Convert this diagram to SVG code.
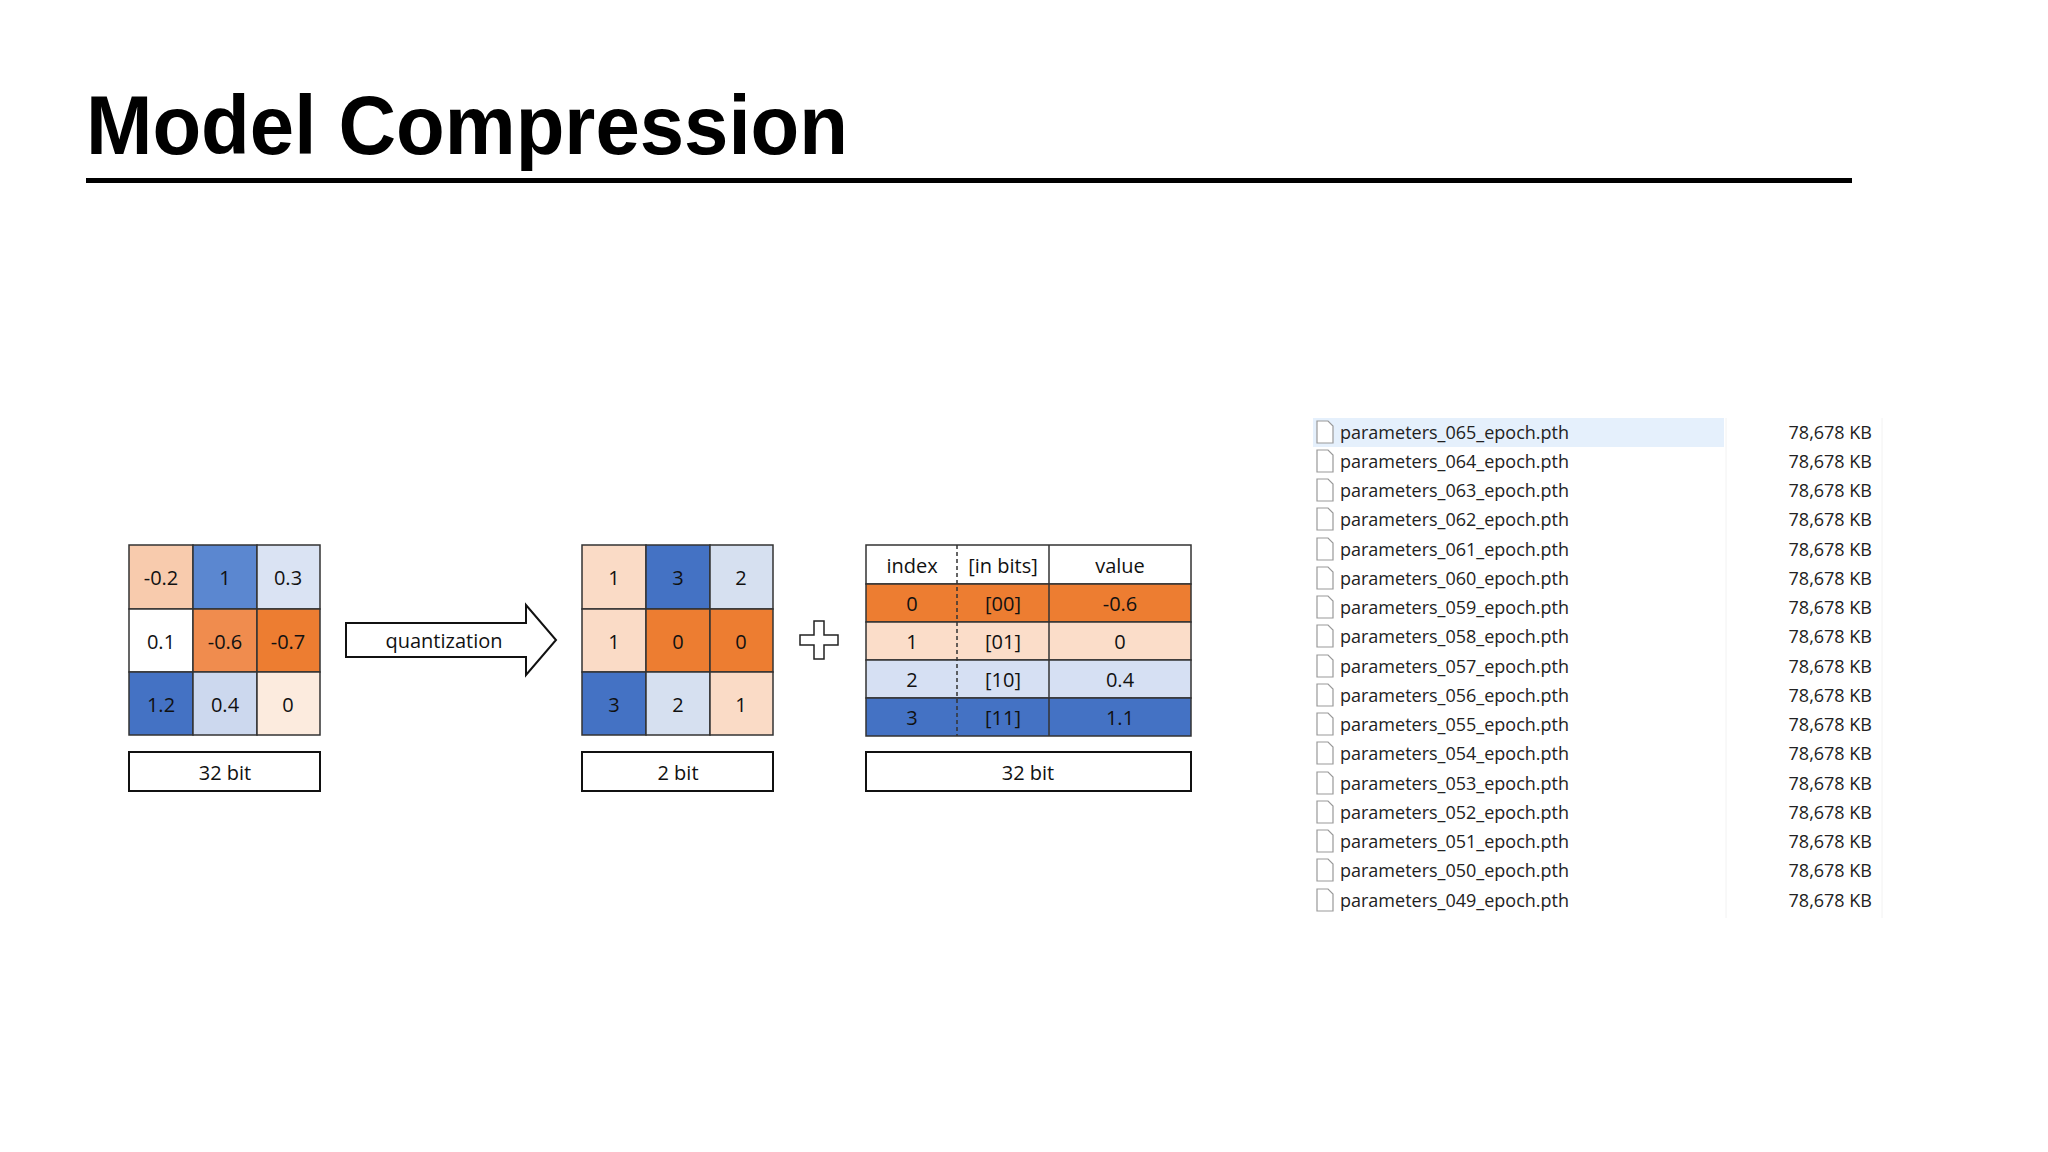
<svg xmlns="http://www.w3.org/2000/svg" width="2048" height="1152" viewBox="0 0 2048 1152">
<style>
.t{font-family:"Open Sans","Liberation Sans",sans-serif;font-size:20px;fill:#111;text-anchor:middle;dominant-baseline:central}
.c{stroke:#333;stroke-width:1.5}
.b{fill:#fff;stroke:#111;stroke-width:2}
.f{font-family:"Open Sans","Liberation Sans",sans-serif;font-size:18px;fill:#222}
.s{font-family:"Open Sans","Liberation Sans",sans-serif;font-size:18px;fill:#222;text-anchor:end}
.i{fill:#fff;stroke:#999;stroke-width:1.2}
</style>
<defs>
<path id="ic" d="M0,0 h11 l5,5 v17 h-16 z" class="i"/>
</defs>
<rect width="2048" height="1152" fill="#fff"/>
<g id="title">
<text x="86" y="154" font-family="Liberation Sans,sans-serif" font-weight="bold" font-size="84" textLength="762" lengthAdjust="spacingAndGlyphs" fill="#000">Model Compression</text>
<rect x="86" y="178" width="1766" height="5" fill="#000"/>
</g>
<g id="grid32">
<rect x="129" y="545" width="64" height="64" fill="#F8CBAD" class="c"/><text class="t" x="161" y="577">-0.2</text>
<rect x="193" y="545" width="64" height="64" fill="#5B87D0" class="c"/><text class="t" x="225" y="577">1</text>
<rect x="257" y="545" width="63" height="64" fill="#DAE3F3" class="c"/><text class="t" x="288" y="577">0.3</text>
<rect x="129" y="609" width="64" height="63" fill="#fff" class="c"/><text class="t" x="161" y="641">0.1</text>
<rect x="193" y="609" width="64" height="63" fill="#F08C4E" class="c"/><text class="t" x="225" y="641">-0.6</text>
<rect x="257" y="609" width="63" height="63" fill="#ED7D31" class="c"/><text class="t" x="288" y="641">-0.7</text>
<rect x="129" y="672" width="64" height="63" fill="#4472C4" class="c"/><text class="t" x="161" y="704">1.2</text>
<rect x="193" y="672" width="64" height="63" fill="#CCD8EE" class="c"/><text class="t" x="225" y="704">0.4</text>
<rect x="257" y="672" width="63" height="63" fill="#FCEBDE" class="c"/><text class="t" x="288" y="704">0</text>
<rect x="129" y="752" width="191" height="39" class="b"/><text class="t" x="225" y="772">32 bit</text>
</g>
<g id="arrow">
<path d="M346,623 H526 V605 L556,640 L526,675 V657 H346 Z" fill="#fff" stroke="#111" stroke-width="2"/>
<text class="t" x="444" y="640">quantization</text>
</g>
<g id="grid2">
<rect x="582" y="545" width="64" height="64" fill="#FADBC6" class="c"/><text class="t" x="614" y="577">1</text>
<rect x="646" y="545" width="64" height="64" fill="#4472C4" class="c"/><text class="t" x="678" y="577">3</text>
<rect x="710" y="545" width="63" height="64" fill="#D6E0F0" class="c"/><text class="t" x="741" y="577">2</text>
<rect x="582" y="609" width="64" height="63" fill="#FADBC6" class="c"/><text class="t" x="614" y="641">1</text>
<rect x="646" y="609" width="64" height="63" fill="#ED7D31" class="c"/><text class="t" x="678" y="641">0</text>
<rect x="710" y="609" width="63" height="63" fill="#ED7D31" class="c"/><text class="t" x="741" y="641">0</text>
<rect x="582" y="672" width="64" height="63" fill="#4472C4" class="c"/><text class="t" x="614" y="704">3</text>
<rect x="646" y="672" width="64" height="63" fill="#D6E0F0" class="c"/><text class="t" x="678" y="704">2</text>
<rect x="710" y="672" width="63" height="63" fill="#FADBC6" class="c"/><text class="t" x="741" y="704">1</text>
<rect x="582" y="752" width="191" height="39" class="b"/><text class="t" x="678" y="772">2 bit</text>
</g>
<g id="plus">
<path d="M814,621 h10 v14 h14 v10 h-14 v14 h-10 v-14 h-14 v-10 h14 z" fill="#fff" stroke="#222" stroke-width="1.5"/>
</g>
<g id="codebook">
<rect x="866" y="545" width="325" height="39" fill="#fff" class="c"/>
<rect x="866" y="584" width="325" height="38" fill="#ED7D31" class="c"/>
<rect x="866" y="622" width="325" height="38" fill="#FBDDC9" class="c"/>
<rect x="866" y="660" width="325" height="38" fill="#D6E0F3" class="c"/>
<rect x="866" y="698" width="325" height="38" fill="#4472C4" class="c"/>
<line x1="957" y1="545" x2="957" y2="736" stroke="#333" stroke-width="1.5" stroke-dasharray="4,3"/>
<line x1="1049" y1="545" x2="1049" y2="736" stroke="#333" stroke-width="1.5"/>
<text class="t" x="912" y="565">index</text><text class="t" x="1003" y="565">[in bits]</text><text class="t" x="1120" y="565">value</text>
<text class="t" x="912" y="603">0</text><text class="t" x="1003" y="603">[00]</text><text class="t" x="1120" y="603">-0.6</text>
<text class="t" x="912" y="641">1</text><text class="t" x="1003" y="641">[01]</text><text class="t" x="1120" y="641">0</text>
<text class="t" x="912" y="679">2</text><text class="t" x="1003" y="679">[10]</text><text class="t" x="1120" y="679">0.4</text>
<text class="t" x="912" y="717">3</text><text class="t" x="1003" y="717">[11]</text><text class="t" x="1120" y="717">1.1</text>
<rect x="866" y="752" width="325" height="39" class="b"/><text class="t" x="1028" y="772">32 bit</text>
</g>
<g id="filelist">
<rect x="1313" y="418" width="411" height="29" fill="#E5F0FC"/>
<line x1="1726" y1="418" x2="1726" y2="918" stroke="#f2f2f2"/>
<line x1="1882" y1="418" x2="1882" y2="918" stroke="#f2f2f2"/>
<use href="#ic" x="1317" y="421"/><text class="f" x="1340" y="439">parameters_065_epoch.pth</text><text class="s" x="1872" y="439">78,678 KB</text>
<use href="#ic" x="1317" y="450"/><text class="f" x="1340" y="468">parameters_064_epoch.pth</text><text class="s" x="1872" y="468">78,678 KB</text>
<use href="#ic" x="1317" y="479"/><text class="f" x="1340" y="497">parameters_063_epoch.pth</text><text class="s" x="1872" y="497">78,678 KB</text>
<use href="#ic" x="1317" y="508"/><text class="f" x="1340" y="526">parameters_062_epoch.pth</text><text class="s" x="1872" y="526">78,678 KB</text>
<use href="#ic" x="1317" y="538"/><text class="f" x="1340" y="556">parameters_061_epoch.pth</text><text class="s" x="1872" y="556">78,678 KB</text>
<use href="#ic" x="1317" y="567"/><text class="f" x="1340" y="585">parameters_060_epoch.pth</text><text class="s" x="1872" y="585">78,678 KB</text>
<use href="#ic" x="1317" y="596"/><text class="f" x="1340" y="614">parameters_059_epoch.pth</text><text class="s" x="1872" y="614">78,678 KB</text>
<use href="#ic" x="1317" y="625"/><text class="f" x="1340" y="643">parameters_058_epoch.pth</text><text class="s" x="1872" y="643">78,678 KB</text>
<use href="#ic" x="1317" y="655"/><text class="f" x="1340" y="673">parameters_057_epoch.pth</text><text class="s" x="1872" y="673">78,678 KB</text>
<use href="#ic" x="1317" y="684"/><text class="f" x="1340" y="702">parameters_056_epoch.pth</text><text class="s" x="1872" y="702">78,678 KB</text>
<use href="#ic" x="1317" y="713"/><text class="f" x="1340" y="731">parameters_055_epoch.pth</text><text class="s" x="1872" y="731">78,678 KB</text>
<use href="#ic" x="1317" y="742"/><text class="f" x="1340" y="760">parameters_054_epoch.pth</text><text class="s" x="1872" y="760">78,678 KB</text>
<use href="#ic" x="1317" y="772"/><text class="f" x="1340" y="790">parameters_053_epoch.pth</text><text class="s" x="1872" y="790">78,678 KB</text>
<use href="#ic" x="1317" y="801"/><text class="f" x="1340" y="819">parameters_052_epoch.pth</text><text class="s" x="1872" y="819">78,678 KB</text>
<use href="#ic" x="1317" y="830"/><text class="f" x="1340" y="848">parameters_051_epoch.pth</text><text class="s" x="1872" y="848">78,678 KB</text>
<use href="#ic" x="1317" y="859"/><text class="f" x="1340" y="877">parameters_050_epoch.pth</text><text class="s" x="1872" y="877">78,678 KB</text>
<use href="#ic" x="1317" y="889"/><text class="f" x="1340" y="907">parameters_049_epoch.pth</text><text class="s" x="1872" y="907">78,678 KB</text>
</g>
<g id="connectors"/>
</svg>
